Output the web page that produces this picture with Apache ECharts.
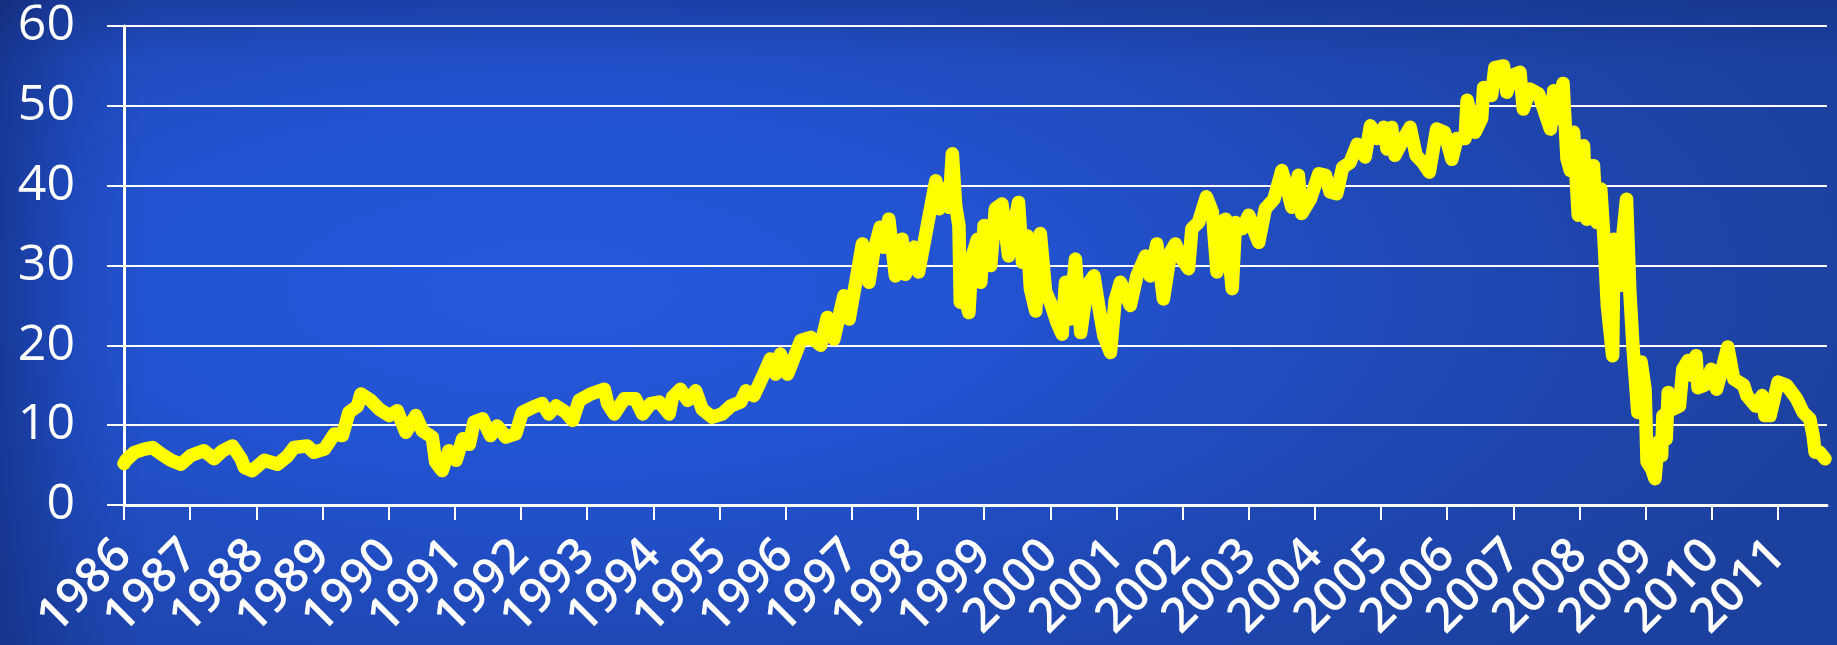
<!DOCTYPE html>
<html>
<head>
<meta charset="utf-8">
<script src="https://cdn.jsdelivr.net/npm/echarts@6/dist/echarts.min.js"></script>
<style>
html, body { margin: 0; padding: 0; }
#lineArea {
	width: 1837px;
	height: 645px;
	background:
		linear-gradient(to right, rgba(12,30,95,0.45) 0%, rgba(12,30,95,0.15) 4%, rgba(0,0,0,0) 8%),
		linear-gradient(to bottom, rgba(12,30,95,0.25) 0%, rgba(0,0,0,0) 10%),
		radial-gradient(ellipse 75% 85% at 30% 45%, #2458dc 0%, #2252cf 35%, #1f48b4 65%, #1c409e 100%);
}
</style>
</head>
<body>
<div id="lineArea"></div>
<script>
// time position (fractional year) of each sample
var sampleYears = [
	1986.00, 1986.03, 1986.16, 1986.31, 1986.43, 1986.56, 1986.71, 1986.86, 1987.01, 1987.21,
	1987.36, 1987.49, 1987.64, 1987.77, 1987.82, 1987.94, 1988.12, 1988.32, 1988.47, 1988.57,
	1988.77, 1988.87, 1989.03, 1989.18, 1989.30, 1989.40, 1989.53, 1989.58, 1989.73, 1989.86,
	1990.01, 1990.13, 1990.26, 1990.41, 1990.51, 1990.66, 1990.71, 1990.81, 1990.91, 1991.02,
	1991.12, 1991.22, 1991.29, 1991.42, 1991.54, 1991.64, 1991.77, 1991.92, 1992.02, 1992.17,
	1992.32, 1992.42, 1992.53, 1992.68, 1992.78, 1992.88, 1993.05, 1993.26, 1993.31, 1993.41,
	1993.56, 1993.73, 1993.84, 1993.96, 1994.09, 1994.24, 1994.29, 1994.41, 1994.52, 1994.64,
	1994.74, 1994.89, 1995.04, 1995.17, 1995.32, 1995.40, 1995.52, 1995.67, 1995.77, 1995.85,
	1995.92, 1996.03, 1996.13, 1996.23, 1996.38, 1996.53, 1996.63, 1996.73, 1996.88, 1996.96,
	1997.06, 1997.16, 1997.26, 1997.33, 1997.43, 1997.48, 1997.56, 1997.66, 1997.76, 1997.81,
	1997.94, 1998.01, 1998.09, 1998.16, 1998.27, 1998.32, 1998.39, 1998.47, 1998.52, 1998.57,
	1998.62, 1998.64, 1998.72, 1998.77, 1998.82, 1998.90, 1998.95, 1999.00, 1999.10, 1999.17,
	1999.27, 1999.37, 1999.45, 1999.52, 1999.58, 1999.65, 1999.70, 1999.78, 1999.85, 1999.93,
	2000.00, 2000.10, 2000.18, 2000.23, 2000.30, 2000.38, 2000.46, 2000.56, 2000.66, 2000.73,
	2000.81, 2000.91, 2000.98, 2001.06, 2001.21, 2001.31, 2001.44, 2001.51, 2001.61, 2001.71,
	2001.82, 2001.89, 2001.99, 2002.09, 2002.14, 2002.24, 2002.36, 2002.45, 2002.52, 2002.57,
	2002.65, 2002.75, 2002.80, 2002.90, 2003.00, 2003.07, 2003.15, 2003.25, 2003.38, 2003.50,
	2003.58, 2003.65, 2003.75, 2003.80, 2003.93, 2004.06, 2004.16, 2004.23, 2004.33, 2004.42,
	2004.53, 2004.64, 2004.76, 2004.84, 2004.94, 2005.04, 2005.09, 2005.16, 2005.21, 2005.34,
	2005.44, 2005.53, 2005.63, 2005.73, 2005.84, 2005.96, 2006.07, 2006.15, 2006.27, 2006.30,
	2006.42, 2006.52, 2006.55, 2006.67, 2006.72, 2006.85, 2006.90, 2006.98, 2007.10, 2007.15,
	2007.25, 2007.38, 2007.56, 2007.61, 2007.68, 2007.75, 2007.81, 2007.86, 2007.91, 2007.98,
	2008.06, 2008.11, 2008.21, 2008.26, 2008.32, 2008.37, 2008.42, 2008.50, 2008.52, 2008.61,
	2008.66, 2008.71, 2008.76, 2008.81, 2008.88, 2008.93, 2008.99, 2009.02, 2009.09, 2009.14,
	2009.19, 2009.24, 2009.26, 2009.31, 2009.34, 2009.41, 2009.51, 2009.56, 2009.64, 2009.71,
	2009.76, 2009.79, 2009.89, 2009.99, 2010.07, 2010.14, 2010.24, 2010.33, 2010.48, 2010.53,
	2010.66, 2010.76, 2010.80, 2010.88, 2011.00, 2011.13, 2011.28, 2011.38, 2011.48, 2011.53,
	2011.56, 2011.63, 2011.71
];
// price at each sample
var sampleValues = [
	5.2, 5.6, 6.6, 7.0, 7.2, 6.4, 5.6, 5.1, 6.2, 6.8,
	5.8, 6.8, 7.4, 5.8, 4.7, 4.3, 5.6, 5.1, 6.1, 7.2,
	7.4, 6.6, 7.0, 8.9, 8.7, 11.6, 12.4, 13.9, 13.1, 12.0,
	11.2, 11.8, 9.1, 11.2, 9.3, 8.5, 5.4, 4.3, 6.8, 5.6,
	8.3, 7.6, 10.4, 10.8, 8.7, 9.9, 8.5, 8.9, 11.6, 12.2,
	12.7, 11.4, 12.4, 11.6, 10.6, 13.1, 13.9, 14.5, 12.7, 11.4,
	13.3, 13.3, 11.4, 12.7, 12.9, 11.4, 13.5, 14.5, 13.1, 14.3,
	12.0, 11.0, 11.4, 12.4, 12.9, 14.3, 13.7, 16.4, 18.3, 16.4,
	18.9, 16.4, 18.5, 20.6, 21.0, 20.0, 23.5, 20.8, 26.2, 23.3,
	27.9, 32.7, 27.9, 31.7, 34.8, 32.3, 35.8, 28.7, 33.3, 28.9,
	32.3, 29.2, 32.7, 35.8, 40.6, 37.1, 39.6, 37.3, 44.0, 37.5,
	35.0, 25.4, 25.6, 24.1, 31.2, 33.3, 27.9, 35.0, 30.0, 37.1,
	37.7, 31.2, 35.0, 37.9, 30.4, 33.7, 27.1, 24.3, 34.0, 26.7,
	25.4, 22.9, 21.4, 27.9, 23.3, 30.8, 21.6, 27.5, 28.7, 25.0,
	21.2, 19.1, 25.6, 27.9, 25.0, 28.7, 31.2, 28.7, 32.7, 25.8,
	31.7, 32.7, 30.8, 29.6, 34.6, 35.4, 38.6, 36.7, 29.2, 35.4,
	35.8, 27.1, 35.4, 34.6, 36.3, 34.6, 32.9, 37.1, 38.3, 41.9,
	39.6, 37.3, 41.3, 36.5, 38.3, 41.5, 41.3, 39.2, 39.0, 42.3,
	42.9, 45.2, 43.6, 47.5, 45.9, 47.3, 44.6, 47.3, 43.8, 45.9,
	47.3, 43.8, 42.9, 41.7, 47.1, 46.7, 43.3, 45.9, 45.9, 50.7,
	46.7, 48.4, 52.3, 51.3, 54.8, 55.0, 51.7, 53.8, 54.2, 49.6,
	52.1, 51.5, 47.1, 51.9, 48.4, 52.8, 43.4, 41.9, 46.7, 36.3,
	45.0, 35.8, 42.5, 35.4, 39.6, 33.3, 25.0, 18.7, 33.3, 27.5,
	34.2, 38.3, 26.7, 19.5, 11.6, 17.9, 14.5, 5.4, 4.5, 3.3,
	7.9, 6.2, 11.2, 8.3, 14.1, 12.0, 12.4, 17.0, 18.1, 16.2,
	18.7, 14.7, 15.0, 17.0, 14.5, 16.6, 19.8, 15.8, 15.0, 13.7,
	12.4, 13.7, 11.2, 11.2, 15.4, 15.0, 13.3, 11.6, 10.8, 8.7,
	6.6, 6.6, 5.8
];
// year ticks on the x axis
var tickYears = [1986, 1987, 1988, 1989, 1990, 1991, 1992, 1993, 1994, 1995, 1996, 1997, 1998,
	1999, 2000, 2001, 2002, 2003, 2004, 2005, 2006, 2007, 2008, 2009, 2010, 2011];
var yMin = 0, yMax = 60, yStep = 10;
var xEnd = 2011.74;

var echartContainer = document.getElementById('lineArea');
var myChartLine = echarts.init(echartContainer);

var points = [];
for (var i = 0; i < sampleYears.length; i++) {
	points.push([sampleYears[i], sampleValues[i]]);
}

// labels go on two stacked axes (even / odd years) so that the
// big rotated labels are not dropped by the overlap check
var evenYears = tickYears.filter(function (y) { return y % 2 === 0; });
var oddYears = tickYears.filter(function (y) { return y % 2 === 1; });

var labelFont = "'Open Sans', 'Noto Sans', sans-serif";

function yearLabel(values) {
	return {
		customValues: values,
		rotate: 45,
		margin: 43,
		padding: [22, 0, 0, 0],
		color: '#ffffff',
		fontSize: 48,
		fontWeight: 600,
		fontFamily: labelFont,
		formatter: function (v) { return String(Math.round(v)); }
	};
}

var optionsLine = {
	animation: false,
	grid: { left: 124, right: 10, top: 26, bottom: 140, containLabel: false, outerBoundsMode: 'none' },
	xAxis: [
		{
			type: 'value',
			min: tickYears[0],
			max: xEnd,
			axisLine: { show: true, lineStyle: { color: '#ffffff', width: 3 } },
			axisTick: {
				show: true, length: 15, inside: false,
				customValues: tickYears,
				lineStyle: { color: '#ffffff', width: 2 }
			},
			axisLabel: yearLabel(evenYears),
			splitLine: { show: false }
		},
		{
			type: 'value',
			position: 'bottom',
			offset: 0,
			min: tickYears[0],
			max: xEnd,
			axisLine: { show: false },
			axisTick: { show: false },
			axisLabel: yearLabel(oddYears),
			splitLine: { show: false }
		}
	],
	yAxis: {
		type: 'value',
		min: yMin,
		max: yMax,
		interval: yStep,
		axisLine: { show: true, lineStyle: { color: '#ffffff', width: 3 } },
		axisTick: { show: true, length: 17, lineStyle: { color: '#ffffff', width: 2 } },
		axisLabel: {
			margin: 49,
			color: '#ffffff',
			fontSize: 50,
			fontWeight: 500,
			fontFamily: labelFont
		},
		splitLine: { show: true, lineStyle: { color: '#ffffff', width: 2 } }
	},
	series: [{
		type: 'line',
		xAxisIndex: 0,
		data: points,
		showSymbol: false,
		symbol: 'none',
		lineStyle: { color: '#ffff00', width: 13.5, cap: 'round', join: 'round' },
		z: 5
	}]
};
myChartLine.setOption(optionsLine);
</script>
</body>
</html>
